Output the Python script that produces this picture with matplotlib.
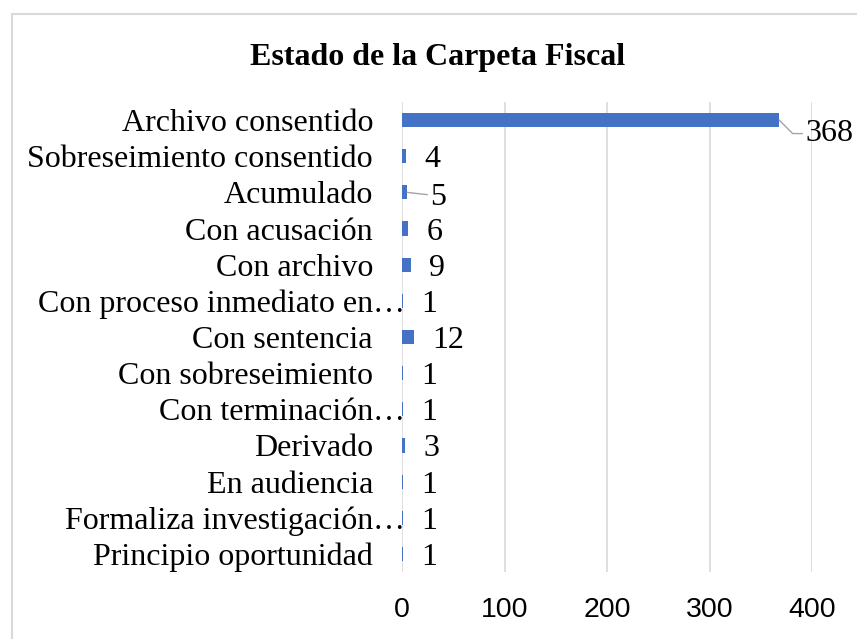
import numpy as np
import matplotlib.pyplot as plt
from matplotlib.patches import Rectangle

# data
categorias = ["Archivo consentido", "Sobreseimiento consentido", "Acumulado",
              "Con acusación", "Con archivo", "Con proceso inmediato en…",
              "Con sentencia", "Con sobreseimiento", "Con terminación…",
              "Derivado", "En audiencia", "Formaliza investigación…",
              "Principio oportunidad"]
valores = [368, 4, 5, 6, 9, 1, 12, 1, 1, 3, 1, 1, 1]
xticks = [0, 100, 200, 300, 400]

azul = "#4472C4"
gris = "#D9D9D9"
serif = "Liberation Serif"

fig = plt.figure(figsize=(8.57, 6.39), dpi=100)
# chart border like excel
fig.patches.append(Rectangle((12/857, -0.05), 0.99, 1 - 14/639 + 0.05,
                             transform=fig.transFigure, fill=False,
                             edgecolor=gris, linewidth=1.5))

ax = fig.add_axes([402/857, 1 - 572/639, 410/857, 470/639])
y = np.arange(len(categorias))
ax.barh(y, valores, height=0.39, color=azul, zorder=3)
ax.set_ylim(len(categorias) - 0.5, -0.5)
ax.set_xlim(0, 400)
ax.set_xticks(xticks)
ax.set_xticklabels([str(t) for t in xticks], family="Liberation Sans", fontsize=20.5)
ax.tick_params(axis="x", length=0, pad=18)
ax.set_yticks([])
ax.grid(axis="x", color=gris, linewidth=1.2, zorder=0)
for s in ax.spines.values():
    s.set_visible(False)

fs = 23
# category labels (truncated ones let the ellipsis run past the edge)
for i, cat in enumerate(categorias):
    if cat.endswith("…"):
        ax.annotate(cat[:-1], xy=(0, i), xycoords=("axes fraction", "data"),
                    xytext=(-29, 0), textcoords="offset pixels", ha="right",
                    va="center_baseline", family=serif, fontsize=fs)
        ax.annotate("…", xy=(0, i), xycoords=("axes fraction", "data"),
                    xytext=(-29, 0), textcoords="offset pixels", ha="left",
                    va="center_baseline", family=serif, fontsize=fs)
    else:
        ax.annotate(cat, xy=(0, i), xycoords=("axes fraction", "data"),
                    xytext=(-29, 0), textcoords="offset pixels", ha="right",
                    va="center_baseline", family=serif, fontsize=fs)

# data labels
for i, v in enumerate(valores):
    if v == 368:
        ax.annotate(str(v), xy=(v, i), xytext=(26, -10), textcoords="offset pixels",
                    ha="left", va="center_baseline", family=serif, fontsize=fs,
                    arrowprops=dict(arrowstyle="-", color="#A5A5A5", lw=1,
                                    connectionstyle="angle,angleA=0,angleB=-45,rad=0",
                                    shrinkA=0, shrinkB=0, relpos=(0, 0.5)))
    elif v == 5:
        ax.annotate(str(v), xy=(v, i), xytext=(23, -2), textcoords="offset pixels",
                    ha="left", va="center_baseline", family=serif, fontsize=fs,
                    arrowprops=dict(arrowstyle="-", color="#A5A5A5", lw=1,
                                    shrinkA=0, shrinkB=0, relpos=(0, 0.6)))
    else:
        ax.annotate(str(v), xy=(v, i), xytext=(18, 0), textcoords="offset pixels",
                    ha="left", va="center_baseline", family=serif, fontsize=fs)

fig.text(438/857, 1 - 57/639, "Estado de la Carpeta Fiscal", ha="center",
         va="center", family=serif, fontweight="bold", fontsize=23)

fig.savefig("out.png", dpi=100)
